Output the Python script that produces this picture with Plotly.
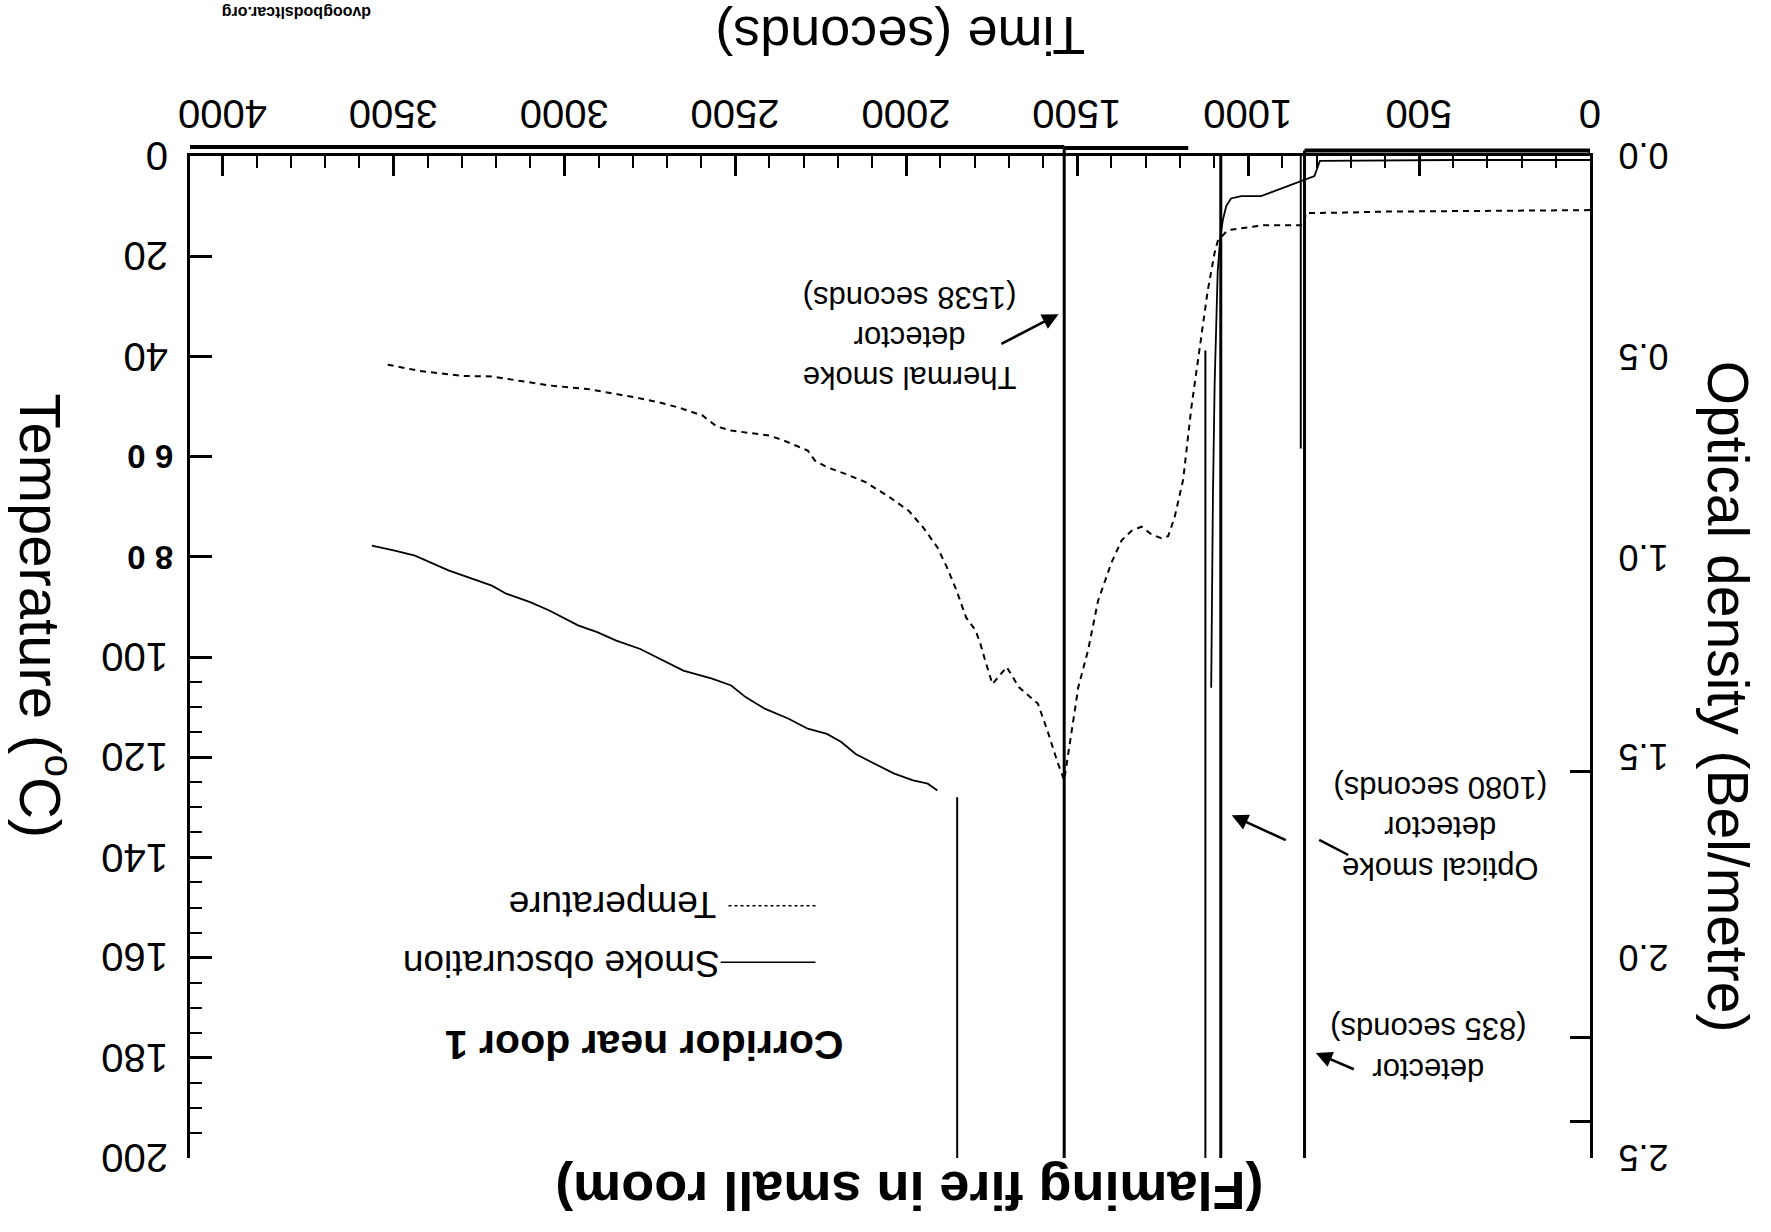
import plotly.graph_objects as go

# ---------------- data ----------------
x_ticks = [0, 500, 1000, 1500, 2000, 2500, 3000, 3500, 4000]
x_tick_labels = ["0", "500", "1000", "1500", "2000", "2500", "3000", "3500", "4000"]

temp_ticks = [0, 20, 40, 60, 80, 100, 120, 140, 160, 180, 200]
temp_tick_labels = ["0", "20", "40", "6 0", "8 0", "100", "120", "140", "160", "180", "200"]

od_ticks = [0.0, 0.5, 1.0, 1.5, 2.0, 2.5]
od_tick_labels = ["0.0", "0.5", "1.0", "1.5", "2.0", "2.5"]
od_marks = [1.535, 2.2, 2.41, 2.5]

# Temperature (deg C) vs time (s) -- dashed curve
temp_time = [0, 300, 600, 719, 797, 830, 840, 952, 1050, 1064, 1089, 1098, 1118, 1142,
             1166, 1190, 1215, 1234, 1254, 1283, 1312, 1341, 1370, 1400, 1439, 1468,
             1497, 1507, 1538, 1559, 1587, 1615, 1671, 1706, 1748, 1769, 1783, 1797,
             1825, 1853, 1881, 1909, 1951, 1993, 2049, 2119, 2176, 2232, 2267, 2288,
             2358, 2400, 2512, 2554, 2596, 2666, 2722, 2792, 2848, 2932, 3044, 3142,
             3213, 3297, 3423, 3528]
temperature = [10.8, 10.9, 11.1, 11.3, 11.3, 11.4, 13.8, 13.8, 14.7, 15.1, 17.0, 19.3,
               26.8, 38.2, 50.2, 64.6, 72.1, 75.9, 76.3, 75.5, 74.0, 74.8, 76.7, 81.2,
               88.8, 98.6, 106.1, 110.7, 124.6, 120.7, 114.7, 109.3, 106.0, 102.0, 105.4,
               100.7, 97.4, 94.7, 92.1, 86.7, 82.1, 78.1, 74.1, 70.8, 68.1, 65.1, 63.5,
               62.1, 60.8, 58.8, 56.8, 55.8, 54.8, 54.0, 51.8, 50.2, 49.2, 48.2, 47.5,
               46.5, 45.8, 44.8, 44.0, 43.9, 42.9, 41.5]

# Smoke obscuration (optical density, Bel/m) -- solid curve, two visible pieces
smoke_time_a = [0, 400, 790, 806, 962, 1020, 1050, 1064, 1074, 1081, 1089, 1098, 1103, 1108]
smoke_od_a = [0.01, 0.01, 0.012, 0.05, 0.1, 0.1, 0.106, 0.125, 0.16, 0.2, 0.288,
              0.571, 0.855, 1.327]
smoke_time_b = [1909, 1937, 1980, 2035, 2091, 2148, 2190, 2232, 2288, 2344, 2414, 2470,
                2512, 2568, 2652, 2722, 2778, 2848, 2904, 2960, 3044, 3100, 3170, 3212,
                3269, 3339, 3437, 3493, 3563]
smoke_od_b = [1.583, 1.566, 1.558, 1.541, 1.517, 1.492, 1.462, 1.442, 1.429, 1.404, 1.379,
              1.350, 1.321, 1.304, 1.284, 1.254, 1.230, 1.209, 1.188, 1.171, 1.134, 1.113,
              1.092, 1.072, 1.055, 1.034, 0.997, 0.985, 0.972]

# detector activation times (s)
detector_times = [835, 1080, 1538]
# other vertical segments on the trace (time, OD from, OD to)
segment_times = [846, 1125, 1851]
segment_from = [0.0, 0.485, 1.6]
segment_to = [0.73, 2.5, 2.5]

# ---------------- figure ----------------
W, H = 1771, 1232
L, R, T, B = 190, 181, 156, 74
PW, PH = W - L - R, H - T - B
S = 1771 / 1568.0  # reference picture scale


def pp(X, Y):
    """position in the (shrunk) reference picture -> paper coordinates"""
    return (X * S - L) / PW, (H - B - Y * S) / PH


FONT = "Liberation Sans, Arial, sans-serif"
fig = go.Figure()

fig.add_trace(go.Scatter(x=temp_time, y=temperature, mode="lines", yaxis="y",
                         line=dict(color="black", width=2, dash="6px,5px"),
                         showlegend=False, hoverinfo="skip"))
fig.add_trace(go.Scatter(x=smoke_time_a + [None] + smoke_time_b,
                         y=smoke_od_a + [None] + smoke_od_b,
                         mode="lines", yaxis="y2", connectgaps=False,
                         line=dict(color="black", width=1.8),
                         showlegend=False, hoverinfo="skip"))
fig.add_trace(go.Scatter(x=[], y=[], yaxis="y3", showlegend=False))

det_top = {835: 1.0056, 1080: 1.0, 1538: 1.010}
for t in detector_times:
    fig.add_shape(type="line", xref="x", yref="paper", x0=t, x1=t, y0=0,
                  y1=det_top.get(t, 1.0), line=dict(color="black", width=3))
for t, a, b in zip(segment_times, segment_from, segment_to):
    fig.add_shape(type="line", xref="x", yref="y2", x0=t, x1=t, y0=a, y1=b,
                  line=dict(color="black", width=2))

# heavy scan edges above the top axis
for x0, x1, yy in [(4095, 1538, 1.009), (1538, 1175, 1.0079), (835, 0, 1.0056)]:
    fig.add_shape(type="line", xref="x", yref="paper", x0=x0, x1=x1, y0=yy, y1=yy,
                  line=dict(color="black", width=4))
fig.add_shape(type="line", xref="x", yref="paper", x0=0, x1=0, y0=1.0, y1=1.0056,
              line=dict(color="black", width=3))

ann = []
TICK = 40

# tick labels (upside-down), placed through the axes' own scales
for v, s in zip(x_ticks, x_tick_labels):
    ann.append(dict(x=v, y=pp(0, 101)[1], xref="x", yref="paper", text=s,
                    showarrow=False, textangle=180, xanchor="center", yanchor="middle",
                    font=dict(family=FONT, size=TICK, color="black")))
for v, s in zip(temp_ticks, temp_tick_labels):
    odd = " " in s
    ann.append(dict(x=pp(155 if odd else 151, 0)[0], y=v, xref="paper", yref="y",
                    text=("<b>%s</b>" % s) if odd else s,
                    showarrow=False, textangle=180, xanchor="right", yanchor="middle",
                    font=dict(family=FONT, size=33 if odd else TICK, color="black")))
for v, s in zip(od_ticks, od_tick_labels):
    ann.append(dict(x=pp(1431, 0)[0], y=v, xref="paper", yref="y2", text=s,
                    showarrow=False, textangle=180, xanchor="left", yanchor="middle",
                    font=dict(family=FONT, size=36, color="black")))


def text(X, Y, s, size, angle=180):
    xp, yp = pp(X, Y)
    ann.append(dict(x=xp, y=yp, xref="paper", yref="paper", text=s, showarrow=False,
                    textangle=angle, xanchor="center", yanchor="middle",
                    font=dict(family=FONT, size=size, color="black"),
                    align="center"))


text(797, 32, "Time (seconds)", 54)
text(40, 545, "Temperature (<sup>o</sup>C)", 58, angle=90)
text(1530, 617, "Optical density (Bel/metre)", 57, angle=90)
text(805, 1055, "<b>(Flaming fire in small room)</b>", 54)
text(570, 925, "<b>Corridor near door 1</b>", 41)
text(497, 853, "Smoke obscuration", 37)
text(542, 801, "Temperature", 37)
text(805, 299, "Thermal smoke<br>detector<br>(1538 seconds)", 31)
text(1275, 733, "Optical smoke<br>detector<br>(1080 seconds)", 31)
text(1265, 929, "detector<br>(835 seconds)", 31)
text(263, 11, "<b>dvoogbodsltcar.org</b>", 16)

# legend samples
for (xa, xb, yy, dash) in [(638, 722, 852, "solid"), (645, 722, 802, "3px,3px")]:
    a = pp(xa, yy)
    b = pp(xb, yy)
    fig.add_shape(type="line", xref="paper", yref="paper", x0=a[0], x1=b[0], y0=a[1],
                  y1=b[1], line=dict(color="black", width=1.5, dash=dash))


def arrow(tail, head):
    # positions in picture px -> data coordinates (time, temperature)
    def d(X, Y):
        return (1408 - X) / 0.303, (Y - 138) / 4.435
    tx, ty = d(*tail)
    hx, hy = d(*head)
    ann.append(dict(x=hx, y=hy, xref="x", yref="y", ax=tx, ay=ty, axref="x", ayref="y",
                    text="", showarrow=True, arrowhead=2, arrowsize=1.3, arrowwidth=2.5,
                    arrowcolor="black"))


arrow((885, 305), (937, 278))
arrow((1139.7, 744.3), (1090.5, 721.6))
arrow((1200, 947), (1165, 932))
a = pp(1168, 743.7)
b = pp(1193.7, 757)
fig.add_shape(type="line", xref="paper", yref="paper", x0=a[0], x1=b[0], y0=a[1], y1=b[1],
              line=dict(color="black", width=2.5))

minor_temp = [v for v in range(105, 200, 5) if v % 20 != 0]

fig.update_layout(
    width=W, height=H,
    margin=dict(l=L, r=R, t=T, b=B, autoexpand=False),
    paper_bgcolor="white", plot_bgcolor="white",
    showlegend=False,
    annotations=ann,
    xaxis=dict(side="top", range=[4095, 0], tickmode="array", tickvals=x_ticks,
               showticklabels=False, automargin=False, ticks="inside", ticklen=20,
               tickwidth=2.5, tickcolor="black", showline=True, linecolor="black",
               linewidth=2.5, showgrid=False, zeroline=False,
               minor=dict(ticks="inside", ticklen=12, tickwidth=2, tickcolor="black",
                          tickmode="linear", tick0=0, dtick=100, showgrid=False)),
    yaxis=dict(range=[200, 0], tickmode="array", tickvals=temp_ticks,
               showticklabels=False, automargin=False, ticks="inside", ticklen=22,
               tickwidth=2.5, tickcolor="black", showline=True, linecolor="black",
               linewidth=3, showgrid=False, zeroline=False,
               minor=dict(ticks="inside", ticklen=12, tickwidth=2, tickcolor="black",
                          tickmode="array", tickvals=minor_temp, showgrid=False)),
    yaxis2=dict(overlaying="y", side="right", anchor="x", range=[2.5, 0],
                tickmode="array", tickvals=od_ticks, showticklabels=False,
                automargin=False, ticks="", showline=True, linecolor="black",
                linewidth=3, showgrid=False, zeroline=False),
    yaxis3=dict(overlaying="y", side="right", anchor="x", range=[2.5, 0],
                tickmode="array", tickvals=od_marks, ticks="inside", ticklen=20,
                tickwidth=2.5, tickcolor="black", showticklabels=False, showline=False,
                automargin=False, showgrid=False, zeroline=False),
)

fig.write_html("out.html", config={"displayModeBar": False},
               post_script="document.body.style.margin='0';")
